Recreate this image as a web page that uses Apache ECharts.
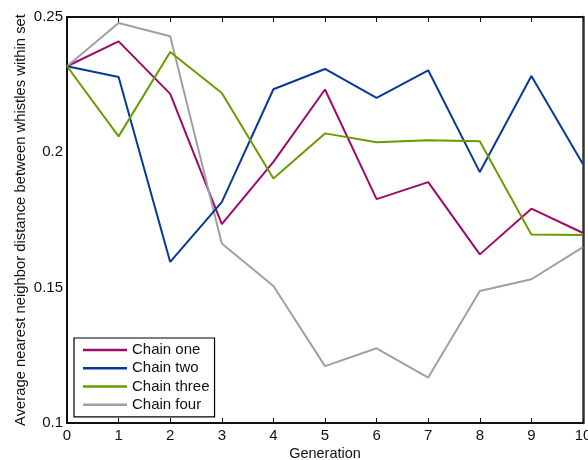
<!DOCTYPE html>
<html>
<head>
<meta charset="utf-8">
<script src="https://cdn.jsdelivr.net/npm/echarts@6/dist/echarts.min.js"></script>
<style>html,body{margin:0;padding:0;background:#fff}#c{width:588px;height:460px}</style>
</head>
<body>
<div id="c"></div>
<script>
const generations = ['0','1','2','3','4','5','6','7','8','9','10'];
const yTicks = [0.1, 0.15, 0.2, 0.25];
const chainOne   = [0.2318, 0.2410, 0.2216, 0.1735, 0.1965, 0.2232, 0.1827, 0.1890, 0.1623, 0.1792, 0.1702];
const chainTwo   = [0.2318, 0.2278, 0.1595, 0.1816, 0.2233, 0.2308, 0.2201, 0.2303, 0.1927, 0.2282, 0.1956];
const chainThree = [0.2318, 0.2059, 0.2371, 0.2219, 0.1903, 0.2070, 0.2037, 0.2045, 0.2041, 0.1696, 0.1695];
const chainFour  = [0.2318, 0.2478, 0.2429, 0.1663, 0.1506, 0.1210, 0.1276, 0.1168, 0.1488, 0.1531, 0.1650];
const names = ['Chain one', 'Chain two', 'Chain three', 'Chain four'];
const colors = ['#9e0a6c', '#063a98', '#689c00', '#a0a0a0'];

const FONT = 'Liberation Sans, Arial, Helvetica, sans-serif';
const chart = echarts.init(document.getElementById('c'));
const axisLine = {show: true, lineStyle: {color: '#111', width: 2}};
const fmt = v => String(Math.round(v * 100) / 100);
chart.setOption({
  animation: false,
  textStyle: {fontFamily: FONT},
  grid: {left: 67, right: 5, top: 17, bottom: 37, containLabel: false, outerBoundsMode: 'none'},
  legend: {
    orient: 'vertical', left: 74, top: 338,
    data: names,
    icon: 'rect',
    itemWidth: 44, itemHeight: 2.5, itemGap: 0, itemTextGap: 4,
    padding: [3, 5, 3, 9],
    borderColor: '#000', borderWidth: 1.2, backgroundColor: '#fff',
    textStyle: {fontSize: 15, color: '#111', fontFamily: FONT, lineHeight: 18.2}
  },
  xAxis: [{
    type: 'category', data: generations, boundaryGap: false,
    name: 'Generation', nameLocation: 'middle', nameGap: 23, nameMoveOverlap: false,
    nameTextStyle: {fontSize: 14.5, color: '#111', fontFamily: FONT},
    axisLine: axisLine,
    axisTick: {inside: true, length: 5, lineStyle: {color: '#111'}},
    axisLabel: {fontSize: 15, color: '#111', margin: 5, fontFamily: FONT},
    splitLine: {show: false}
  }, {
    type: 'category', data: generations, boundaryGap: false, position: 'top',
    axisLine: axisLine,
    axisTick: {inside: true, length: 5, lineStyle: {color: '#111'}},
    axisLabel: {show: false}, splitLine: {show: false}
  }],
  yAxis: [{
    type: 'value', min: 0.1, max: 0.25, interval: 0.05,
    name: 'Average nearest neighbor distance between whistles within set',
    nameLocation: 'middle', nameGap: 38.5, nameMoveOverlap: false,
    nameTextStyle: {fontSize: 14.8, color: '#111', fontFamily: FONT},
    axisLine: axisLine,
    axisTick: {inside: true, length: 5, lineStyle: {color: '#111'}},
    axisLabel: {fontSize: 15, color: '#111', margin: 4, fontFamily: FONT,
      formatter: v => yTicks.some(t => Math.abs(t - v) < 1e-9) ? fmt(v) : ''},
    splitLine: {show: false}
  }, {
    type: 'value', min: 0.1, max: 0.25, interval: 0.05, position: 'right',
    axisLine: {show: true, lineStyle: {color: '#333', width: 2.5}},
    axisTick: {inside: true, length: 5, lineStyle: {color: '#111'}},
    axisLabel: {show: false}, splitLine: {show: false}
  }],
  series: [chainOne, chainTwo, chainThree, chainFour].map((d, i) => ({
    name: names[i], type: 'line', data: d, symbol: 'none',
    lineStyle: {width: 2, color: colors[i]}, itemStyle: {color: colors[i]},
    z: 2 + (i === 3 ? 0 : i)
  }))
});
</script>
</body>
</html>
